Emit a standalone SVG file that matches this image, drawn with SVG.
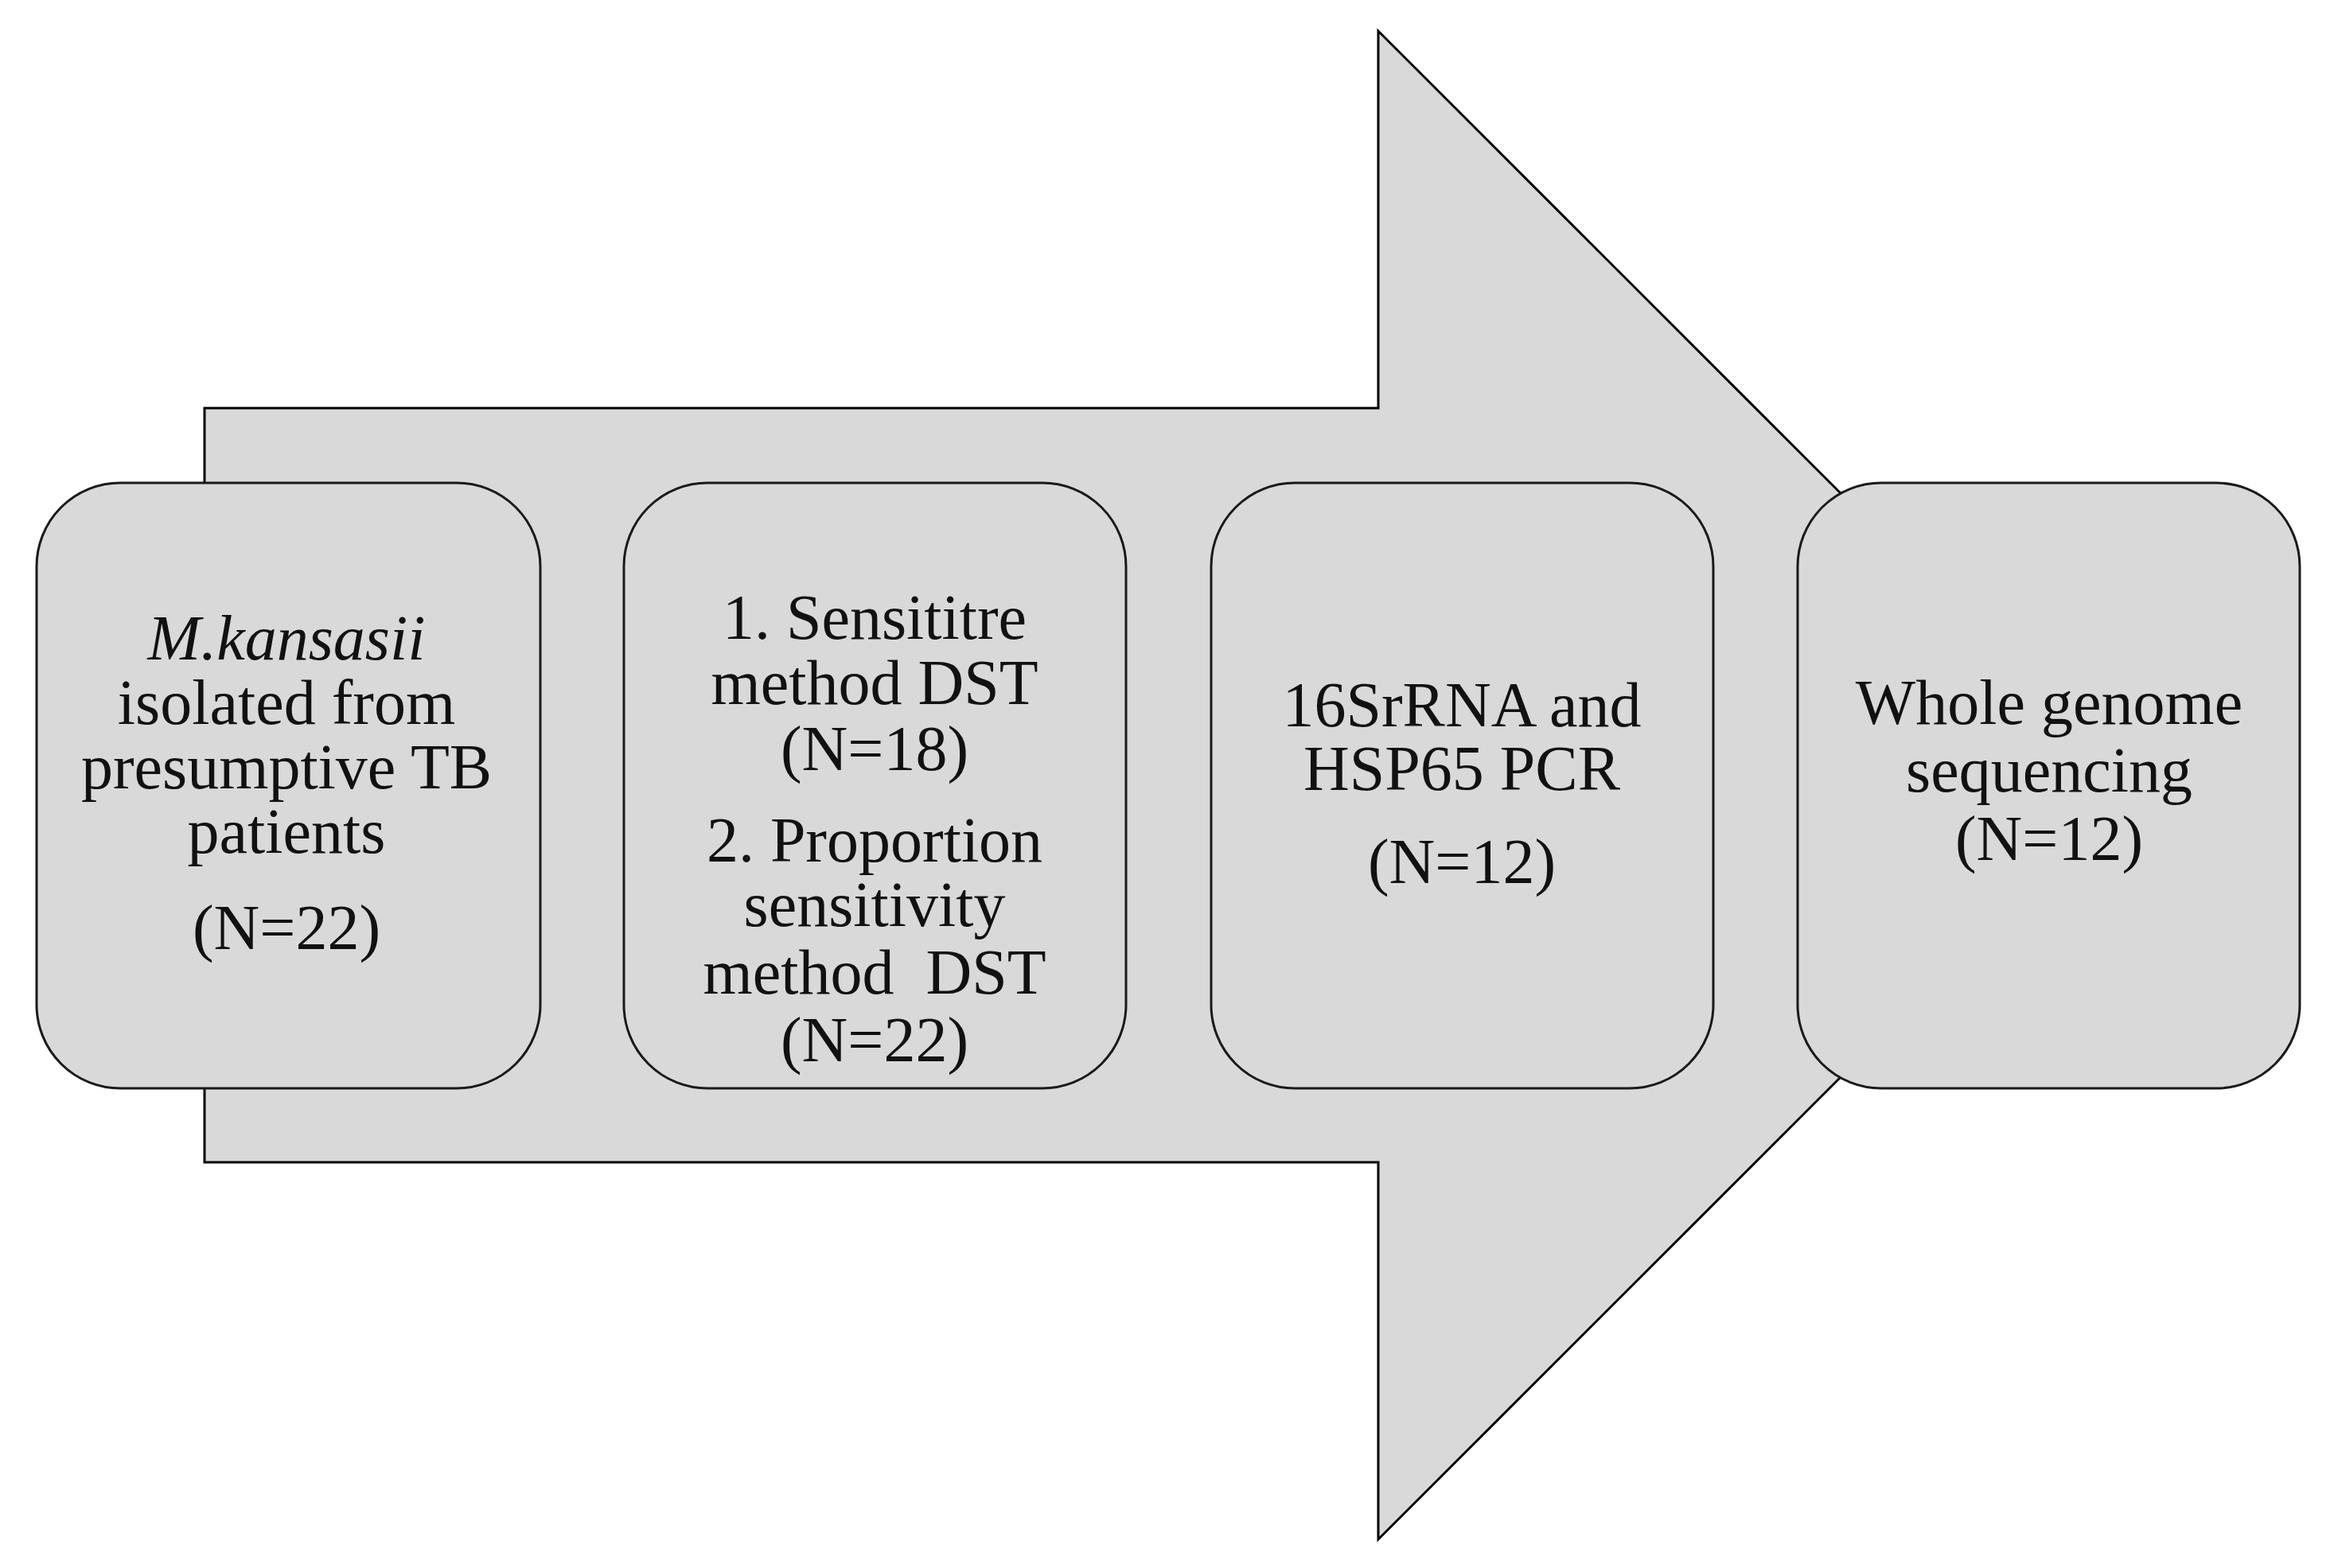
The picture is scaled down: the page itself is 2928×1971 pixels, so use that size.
<svg xmlns="http://www.w3.org/2000/svg" width="2928" height="1971" viewBox="0 0 2928 1971">
<style>
.shape{fill:#d9d9d9;stroke:#000;stroke-width:3}
.box{fill:#d9d9d9;stroke:#1a1a1a;stroke-width:3}
text{font-family:"Liberation Serif","Times New Roman",serif;font-size:80px;fill:#111;text-anchor:middle}
.it{font-style:italic}
</style>
<rect width="2928" height="1971" fill="#fff"/>
<g id="connectors">
<path id="big-arrow" class="shape" d="M257,513 H1732 V39 L2680,987 L1732,1935 V1461 H257 Z"/>
</g>
<g id="node1">
<rect class="box" x="46" y="607" width="633" height="761" rx="105" ry="105"/>
<text x="360" y="829" class="it">M.kansasii</text>
<text x="360" y="910">isolated from</text>
<text x="360" y="991">presumptive TB</text>
<text x="360" y="1072">patients</text>
<text x="360" y="1193">(N=22)</text>
</g>
<g id="node2">
<rect class="box" x="784" y="607" width="631" height="761" rx="105" ry="105"/>
<text x="1099" y="803">1. Sensititre</text>
<text x="1099" y="885">method DST</text>
<text x="1099" y="968">(N=18)</text>
<text x="1099" y="1083">2. Proportion</text>
<text x="1099" y="1164">sensitivity</text>
<text x="1099" y="1249" xml:space="preserve">method  DST</text>
<text x="1099" y="1334">(N=22)</text>
</g>
<g id="node3">
<rect class="box" x="1522" y="607" width="631" height="761" rx="105" ry="105"/>
<text x="1837" y="913">16SrRNA and</text>
<text x="1837" y="993">HSP65 PCR</text>
<text x="1837" y="1110">(N=12)</text>
</g>
<g id="node4">
<rect class="box" x="2259" y="607" width="631" height="761" rx="105" ry="105"/>
<text x="2575" y="910">Whole genome</text>
<text x="2575" y="995">sequencing</text>
<text x="2575" y="1081">(N=12)</text>
</g>
</svg>
